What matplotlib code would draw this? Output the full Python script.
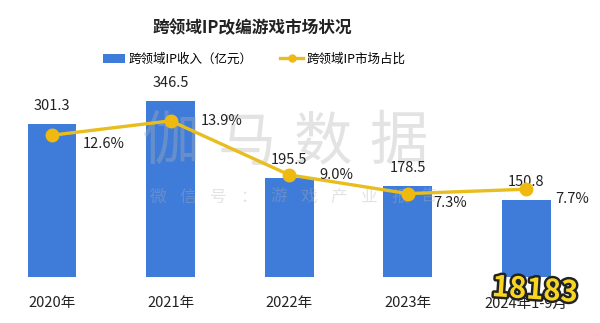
import matplotlib
matplotlib.use("Agg")
import matplotlib.pyplot as plt
import matplotlib.patheffects as pe
from matplotlib.lines import Line2D
from matplotlib.patches import Patch

plt.rcParams['font.family'] = ['Noto Sans CJK SC', 'DejaVu Sans']

categories = ["2020年", "2021年", "2022年", "2023年", "2024年1-9月"]
revenue = [301.3, 346.5, 195.5, 178.5, 150.8]
share = [12.6, 13.9, 9.0, 7.3, 7.7]
share_labels = ["12.6%", "13.9%", "9.0%", "7.3%", "7.7%"]
title = "跨领域IP改编游戏市场状况"
legend_bar = "跨领域IP收入（亿元）"
legend_line = "跨领域IP市场占比"
wm_big = "伽马数据"
wm_small = "微信号：游戏产业报告"

BAR = "#3F7CD9"
LINE = "#E8BE1E"
W, H = 600, 323

fig = plt.figure(figsize=(6, 3.23), dpi=100)
ax = fig.add_axes([0, (H - 277) / H, 1, (277 - 80) / H])
ax2 = ax.twinx()

x = list(range(len(categories)))
ax.bar(x, revenue, width=0.41, color=BAR, zorder=2)
ax.set_xlim(-52 / 118.6, (600 - 52) / 118.6)
ax.set_ylim(0, 197 / 0.508)
ax2.set_ylim(-3 / 11.36, 200 / 11.36)

ax2.plot(x, share, color=LINE, lw=2.4, marker='o', markersize=9,
         markerfacecolor="#F0B90F", markeredgecolor="#F0B90F", zorder=3)

for a in (ax, ax2):
    for s in a.spines.values():
        s.set_visible(False)
    a.set_yticks([])
ax.set_xticks(x)
ax.set_xticklabels(categories, fontsize=10.5, color="#222222")
ax.tick_params(axis='x', length=0, pad=14)

for xi, v in zip(x, revenue):
    ax.annotate(f"{v:.1f}", (xi, v), xytext=(0, 18), textcoords='offset pixels',
                ha='center', va='center', fontsize=10.5, color="#222222", zorder=4)

offsets = [(31, -9), (30, 0), (30, 0), (25, -9), (29, -10)]
for xi, v, lab, (dx, dy) in zip(x, share, share_labels, offsets):
    ax2.annotate(lab, (xi, v), xytext=(dx, dy), textcoords='offset pixels',
                 ha='left', va='center', fontsize=10.5, color="#222222")

# watermark (above bars, below line)
for i, ch in enumerate(wm_big):
    ax.text((171 + 76 * i) / W, 1 - 143 / H, ch, transform=fig.transFigure,
            fontsize=42, color="#b0b0b0", alpha=0.35, ha='center', va='center',
            zorder=2.5)
for i, ch in enumerate(wm_small):
    ax.text((158 + 30.2 * i) / W, 1 - 197 / H, ch, transform=fig.transFigure,
            fontsize=12, color="#b0b0b0", alpha=0.35, ha='center', va='center',
            zorder=2.5)

fig.text(252 / W, 1 - 28 / H, title, fontsize=12, fontweight='bold',
         color="#222222", ha='center', va='center')

handles = [Patch(facecolor=BAR, edgecolor='none'),
           Line2D([0], [0], color=LINE, lw=2.4, marker='o', markersize=5,
                  markerfacecolor="#F0B90F", markeredgecolor="#F0B90F")]
fig.legend(handles, [legend_bar, legend_line], loc='center',
           bbox_to_anchor=(254 / W, 1 - 59 / H), ncol=2, frameon=False,
           fontsize=9, handlelength=1.8, handleheight=0.7, columnspacing=2.2,
           handletextpad=0.3)

# site logo
fig.text(535 / W, 1 - 290 / H, "18183", fontsize=21, fontweight='bold',
         color="#F7D523", ha='center', va='center', rotation=-4, zorder=10,
         path_effects=[pe.withStroke(linewidth=3.5, foreground="#222222")])

fig.savefig("out.png", dpi=100)
